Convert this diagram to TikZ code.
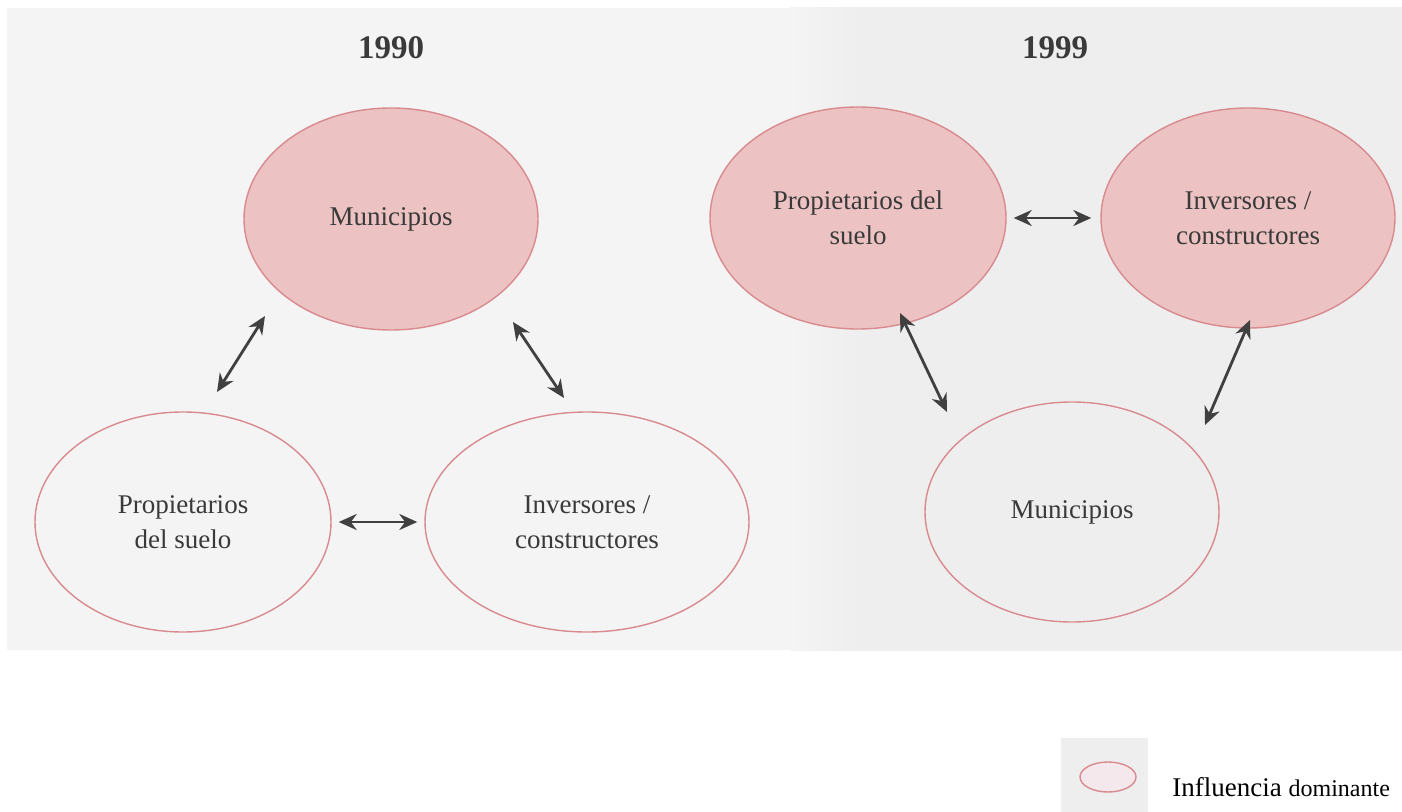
\documentclass[tikz,border=0pt]{standalone}
\usepackage{fontspec}
\setmainfont{Liberation Serif}
\usetikzlibrary{shapes.geometric,arrows.meta}
\definecolor{bgpanel}{HTML}{F4F4F4}
\definecolor{bgright}{HTML}{EEEEEE}
\definecolor{pinkfill}{HTML}{EDC2C2}
\definecolor{pinkline}{HTML}{D88A8E}
\definecolor{txt}{HTML}{3A3A3A}
\definecolor{arrowc}{HTML}{404040}
\definecolor{legfill}{HTML}{F4E8EC}
\tikzset{
  actor/.style={ellipse, draw=pinkline, line width=0.7pt, text=txt, align=center,
    font=\fontsize{13.5}{17.5}\selectfont, inner sep=0pt},
  dominant/.style={actor, fill=pinkfill},
  plain/.style={actor, fill=none},
  rel/.style={draw=arrowc, line width=1.4pt, {Stealth[length=9pt,width=8pt]}-{Stealth[length=9pt,width=8pt]}},
  yeartitle/.style={font=\fontsize{16.5}{20}\selectfont\bfseries, text=txt}
}
\begin{document}
\begin{tikzpicture}[x=0.5pt,y=-0.5pt]
\useasboundingbox (0,0) rectangle (1402,812);
\fill[white] (0,0) rectangle (1402,812);
\fill[bgpanel] (7,8) rectangle (1402,650);
\begin{scope}
\clip (790,8) rectangle (1402,650);
\shade[left color=bgpanel, right color=bgright] (790,0) rectangle (860,660);
\fill[bgright] (859,0) rectangle (1402,660);
\end{scope}
\fill[bgright] (1061,738) rectangle (1148,812);

\node[yeartitle] (t1) at (391,48) {1990};
\node[yeartitle] (t2) at (1055,48) {1999};

% 1990
\node[dominant, minimum width=147pt, minimum height=111pt] (m1) at (391,219) {Municipios};
\node[plain, minimum width=148pt, minimum height=110pt] (p1) at (183,522) {Propietarios\\del suelo};
\node[plain, minimum width=162pt, minimum height=110pt] (i1) at (587,522) {Inversores /\\constructores};

% 1999
\node[dominant, minimum width=148pt, minimum height=111pt] (p2) at (858,218) {Propietarios del\\suelo};
\node[dominant, minimum width=147pt, minimum height=110pt] (i2) at (1248,218) {Inversores /\\constructores};
\node[plain, minimum width=147pt, minimum height=110pt] (m2) at (1072,512) {Municipios};

% connector end points
\coordinate (a1) at (265,316);
\coordinate (a2) at (217,392);
\coordinate (b1) at (513,322);
\coordinate (b2) at (564,398);
\coordinate (c1) at (900,313);
\coordinate (c2) at (947,412);
\coordinate (d1) at (1250,320);
\coordinate (d2) at (1205,425);

\draw[rel] (a1) -- (a2);
\draw[rel] (b1) -- (b2);
\draw[rel, shorten <=3.5pt, shorten >=3.5pt] (p1) -- (i1);
\draw[rel, shorten <=3.5pt, shorten >=4.5pt] (p2) -- (i2);
\draw[rel] (c1) -- (c2);
\draw[rel] (d1) -- (d2);

% legend
\node[ellipse, draw=pinkline, fill=legfill, line width=0.7pt, minimum width=28pt, minimum height=15pt, inner sep=0pt] (leg) at (1108,777) {};
\node[anchor=base west, text=black, inner sep=0pt] (legt) at (1172,796) {\fontsize{13.5}{16}\selectfont Influencia \fontsize{12}{14}\selectfont dominante};
\end{tikzpicture}
\end{document}
